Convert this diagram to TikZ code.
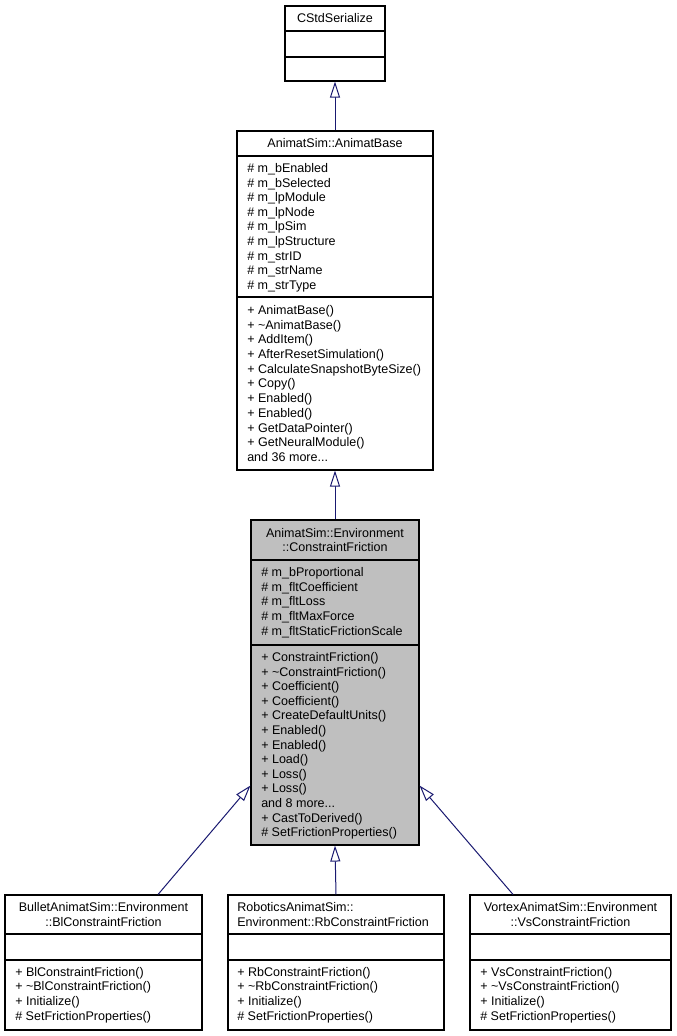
\documentclass[tikz,border=0pt]{standalone}
\usepackage{fontspec}
\setmainfont{Liberation Sans}
\usetikzlibrary{arrows.meta,fit}
\definecolor{edgeblue}{HTML}{191970}
\definecolor{cfgray}{HTML}{BFBFBF}
\newcommand{\umlmore}[1]{and #1 more...}
\tikzset{
  cls/.style={draw=black, line width=0.8pt, inner sep=0pt},
  sep/.style={draw=black, line width=0.8pt},
  mem/.style={anchor=west, inner sep=0pt, text height=8.5pt, text depth=1.8pt, font=\fontsize{9.4}{10.95}\selectfont},
  ttl/.style={inner sep=0pt, align=center, font=\fontsize{9.4}{10.95}\selectfont},
  inherit/.style={draw=edgeblue, line width=0.75pt, -{Triangle[fill=white, length=12pt, width=7.5pt]}}
}
\begin{document}
\begin{tikzpicture}[x=0.75pt, y=-0.75pt]
   \useasboundingbox (0,0) rectangle (677,1036);
   % CStdSerialize
   \node[cls, fit={(285,6) (385,81)}] (ser) {};
   \draw[sep] (ser.west |- 0,31) -- (ser.east |- 0,31);
   \draw[sep] (ser.west |- 0,57) -- (ser.east |- 0,57);
   \node[ttl] (ser-t) at (335,18.5) {CStdSerialize};
   % AnimatBase
   \node[cls, fit={(237,131) (433,470)}] (ab) {};
   \draw[sep] (ab.west |- 0,156) -- (ab.east |- 0,156);
   \draw[sep] (ab.west |- 0,297) -- (ab.east |- 0,297);
   \node[ttl] (ab-t) at (335,143.5) {AnimatSim::AnimatBase};
   \foreach \t [count=\i] in {m\_bEnabled, m\_bSelected, m\_lpModule, m\_lpNode, m\_lpSim, m\_lpStructure, m\_strID, m\_strName, m\_strType}
      \node[mem] (ab-a\i) at (247,{168+(\i-1)*14.6}) {\# \t};
   \foreach \t [count=\i] in {+ AnimatBase(), + \textasciitilde AnimatBase(), + AddItem(), + AfterResetSimulation(), + CalculateSnapshotByteSize(), + Copy(), + Enabled(), + Enabled(), + GetDataPointer(), + GetNeuralModule(), \umlmore{36}}
      \node[mem] (ab-m\i) at (247,{310+(\i-1)*14.7}) {\t};
   % ConstraintFriction
   \node[cls, fill=cfgray, fit={(251,520) (419,845)}] (cf) {};
   \draw[sep] (cf.west |- 0,560) -- (cf.east |- 0,560);
   \draw[sep] (cf.west |- 0,645) -- (cf.east |- 0,645);
   \node[ttl] (cf-t) at (335,540) {AnimatSim::Environment\\::ConstraintFriction};
   \foreach \t [count=\i] in {m\_bProportional, m\_fltCoefficient, m\_fltLoss, m\_fltMaxForce, m\_fltStaticFrictionScale}
      \node[mem] (cf-a\i) at (261,{572+(\i-1)*14.75}) {\# \t};
   \foreach \t [count=\i] in {+ ConstraintFriction(), + \textasciitilde ConstraintFriction(), + Coefficient(), + Coefficient(), + CreateDefaultUnits(), + Enabled(), + Enabled(), + Load(), + Loss(), + Loss(), \umlmore{8}, + CastToDerived(), \# SetFrictionProperties()}
      \node[mem] (cf-m\i) at (261,{657+(\i-1)*14.6}) {\t};
   % derived classes
   \node[cls, fit={(5,895) (202,1030)}] (bl) {};
   \node[cls, fit={(228,895) (444,1030)}] (rb) {};
   \node[cls, fit={(470,895) (671,1030)}] (vs) {};
   \foreach \b in {bl,rb,vs} {
      \draw[sep] (\b.west |- 0,934) -- (\b.east |- 0,934);
      \draw[sep] (\b.west |- 0,960) -- (\b.east |- 0,960);
   }
   \node[ttl] (bl-t) at (103.5,914.5) {BulletAnimatSim::Environment\\::BlConstraintFriction};
   \node[ttl, align=left, anchor=west] (rb-t) at (237,914.5) {RoboticsAnimatSim::\\Environment::RbConstraintFriction};
   \node[ttl] (vs-t) at (570.5,914.5) {VortexAnimatSim::Environment\\::VsConstraintFriction};
   \foreach \b/\p/\x in {bl/Bl/15, rb/Rb/237, vs/Vs/480} {
      \node[mem] (\b-m1) at (\x,972) {+ \p ConstraintFriction()};
      \node[mem] (\b-m2) at (\x,986) {+ \textasciitilde\p ConstraintFriction()};
      \node[mem] (\b-m3) at (\x,1001) {+ Initialize()};
      \node[mem] (\b-m4) at (\x,1016) {\# SetFrictionProperties()};
   }
   % inheritance
   \draw[inherit] (ab.north) -- (ser.south);
   \draw[inherit] (cf.north) -- (ab.south);
   \draw[inherit] (rb.north) -- (cf.south);
   \draw[inherit] ([xshift=40.9pt]bl.north) -- ([yshift=45pt]cf.south west);
   \draw[inherit] ([xshift=-43.1pt]vs.north) -- ([yshift=45pt]cf.south east);
\end{tikzpicture}
\end{document}
